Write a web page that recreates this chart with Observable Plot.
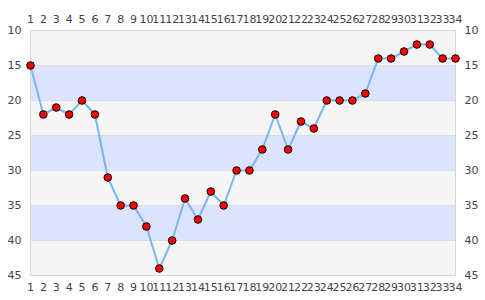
<!DOCTYPE html>
<html>
<head>
<meta charset="utf-8">
<script src="https://cdn.jsdelivr.net/npm/d3@7"></script>
<script src="https://cdn.jsdelivr.net/npm/@observablehq/plot@0.6"></script>
<style>
  html, body { margin: 0; padding: 0; background: #fff; }
</style>
</head>
<body>
<div id="chart"></div>
<script>
const xs = d3.range(1, 35);
const values = [15, 22, 21, 22, 20, 22, 31, 35, 35, 38, 44, 40, 34, 37, 33, 35, 30, 30, 27, 22, 27, 23, 24, 20, 20, 20, 19, 14, 14, 13, 12, 12, 14, 14];
const yTicks = [10, 15, 20, 25, 30, 35, 40, 45];
const bandStarts = [10, 15, 20, 25, 30, 35, 40];
const bandColors = ["#f5f5f5", "#dce3fd"];

const data = xs.map((x, i) => ({x, y: values[i]}));
const bands = bandStarts.map((b, i) => ({y1: b, y2: b + 5, fill: bandColors[i % 2]}));

const chart = Plot.plot({
  width: 485,
  height: 300,
  marginLeft: 30,
  marginRight: 30,
  marginTop: 30,
  marginBottom: 25,
  style: {fontFamily: "DejaVu Sans, sans-serif", fontSize: "11px", color: "#444", background: "#fff"},
  x: {domain: [1, 34], label: null},
  y: {domain: [10, 45], reverse: true, label: null},
  marks: [
    Plot.rect(bands, {y1: "y1", y2: "y2", fill: "fill"}),
    Plot.ruleY(bandStarts.slice(1), {stroke: "#dddddd"}),
    Plot.frame({stroke: "#d8d8d8"}),
    Plot.line(data, {x: "x", y: "y", stroke: "#7ab6f2", strokeWidth: 2}),
    Plot.dot(data, {x: "x", y: "y", r: 3.8, fill: "#ff0000", stroke: "#000", strokeWidth: 1}),
    Plot.axisX({anchor: "top", ticks: xs, tickSize: 0, tickPadding: 8, tickFormat: d => d, fill: "#444", label: null}),
    Plot.axisX({anchor: "bottom", ticks: xs, tickSize: 0, tickPadding: 8, tickFormat: d => d, fill: "#444", label: null}),
    Plot.axisY({anchor: "left", ticks: yTicks, tickSize: 0, tickPadding: 9, fill: "#444", label: null}),
    Plot.axisY({anchor: "right", ticks: yTicks, tickSize: 0, tickPadding: 9, fill: "#444", label: null})
  ]
});
document.getElementById("chart").appendChild(chart);
</script>
</body>
</html>
